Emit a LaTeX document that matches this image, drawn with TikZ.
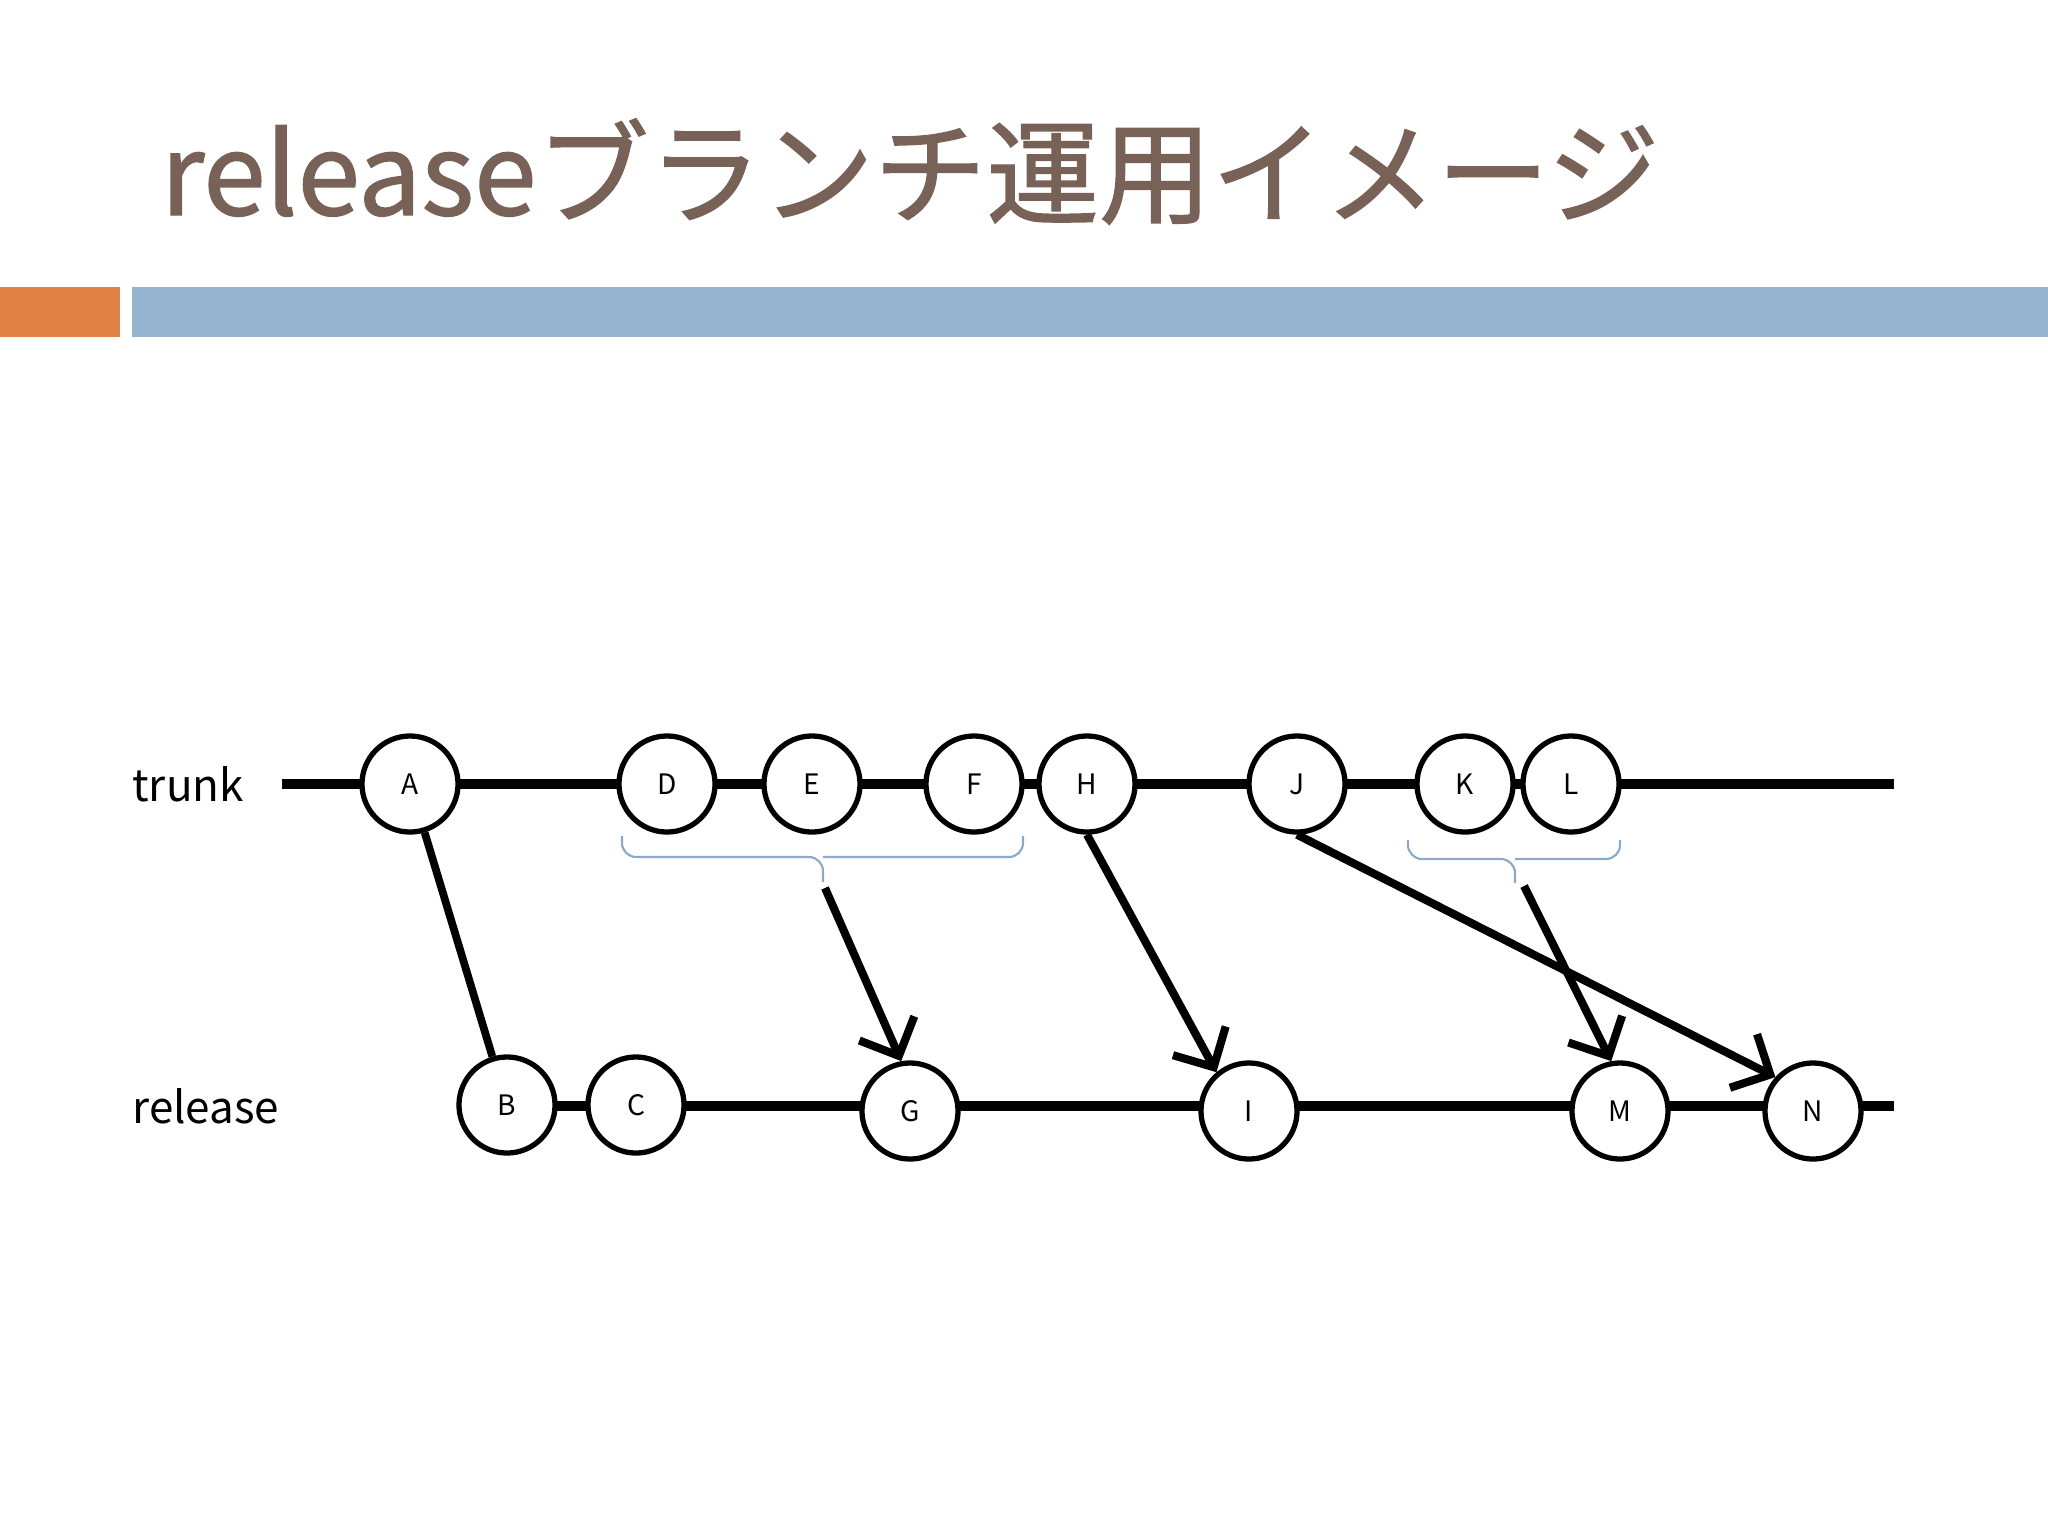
\documentclass[tikz,border=0pt]{standalone}
\usepackage{fontspec}
\setmainfont{Noto Sans CJK JP}
\newfontfamily\titlefont[FakeBold=1.2]{Noto Sans CJK JP}
\usetikzlibrary{arrows.meta}
\definecolor{titlebrown}{RGB}{120,98,88}
\definecolor{barorange}{RGB}{224,130,70}
\definecolor{barblue}{RGB}{150,180,208}
\definecolor{bracketblue}{RGB}{140,170,200}
\tikzset{
  commit/.style={draw, circle, line width=1.5pt, fill=white, minimum size=0.96cm, inner sep=0pt, font=\fontsize{8}{9}\selectfont},
  branchline/.style={line width=2.6pt},
  merge/.style={line width=2.3pt, -{Straight Barb[length=3mm,width=6mm]}},
  bracket/.style={bracketblue, line width=0.6pt, rounded corners=4pt},
  branchlabel/.style={anchor=west, font=\fontsize{12.5}{14}\selectfont},
}

\begin{document}
\begin{tikzpicture}[x=0.01cm, y=-0.01cm]
    \useasboundingbox (0,0) rectangle (2048,1536);
    % title and bars
    \node[anchor=base west, inner sep=0pt, text=titlebrown, font=\titlefont\fontsize{32}{36}\selectfont] (title) at (160,215) {releaseブランチ運用イメージ};
    \fill[barorange] (0,287) rectangle (120,337);
    \fill[barblue] (132,287) rectangle (2048,337);

    % branch lines
    \node[branchlabel] (trunk) at (120,784) {trunk};
    \node[branchlabel] (release) at (120,1106) {release};
    \coordinate (trunkstart) at (282,784);
    \coordinate (trunkend) at (1894,784);
    \coordinate (relstart) at (507,1106);
    \coordinate (relend) at (1894,1106);
    \draw[branchline] (trunkstart) -- (trunkend);
    \draw[branchline] (relstart) -- (relend);

    % trunk commits
    \node[commit] (A) at (410,784) {A};
    \node[commit] (D) at (667,784) {D};
    \node[commit] (E) at (812,784) {E};
    \node[commit] (F) at (974,784) {F};
    \node[commit] (H) at (1087,784) {H};
    \node[commit] (J) at (1297,784) {J};
    \node[commit] (K) at (1465,784) {K};
    \node[commit] (L) at (1571,784) {L};

    % release commits
    \node[commit] (B) at (507,1105) {B};
    \node[commit] (C) at (636,1105) {C};
    \node[commit] (G) at (910,1111) {G};
    \node[commit] (I) at (1249,1111) {I};
    \node[commit] (M) at (1620,1111) {M};
    \node[commit] (N) at (1813,1111) {N};

    % brackets under D-F and K-L
    \draw[bracket] (622,836) -- (622,857) -- (823,857) -- (823,882);
    \draw[bracket] (823,857) -- (1023,857) -- (1023,836);
    \draw[bracket] (1408,840) -- (1408,859) -- (1515,859) -- (1515,883);
    \draw[bracket] (1515,859) -- (1620,859) -- (1620,840);
    \coordinate (tipDF) at (825,888);
    \coordinate (tipKL) at (1524,886);

    % branch and merges
    \draw[line width=2.2pt] (A) -- (B);
    \draw[merge] (tipDF) -- (G.100);
    \draw[merge] (H.south) -- (I.130);
    \draw[merge] (J.south) -- (N.138);
    \draw[merge] (tipKL) -- (M.100);
\end{tikzpicture}
\end{document}
